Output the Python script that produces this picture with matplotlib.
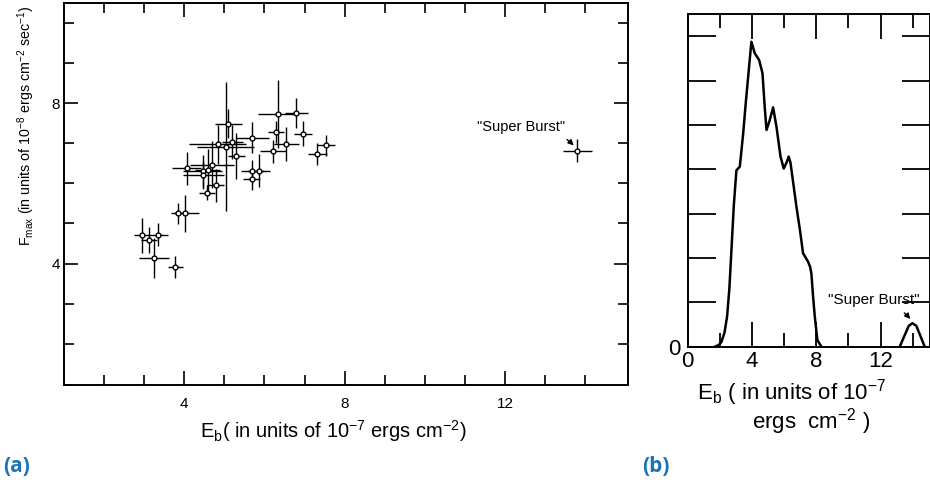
import numpy as np
import matplotlib
matplotlib.use('Agg')
import matplotlib.pyplot as plt

plt.rcParams['font.family'] = ['Liberation Sans', 'DejaVu Sans']
plt.rcParams['mathtext.default'] = 'regular'

# panel (a): burst energy vs peak flux
eb = [2.94, 3.12, 3.34, 3.25, 3.78, 3.85, 4.02, 4.06, 4.46, 4.48, 4.58, 4.69,
      4.56, 4.78, 4.83, 5.03, 5.10, 5.20, 5.30, 5.70, 5.70, 5.68, 5.87, 6.21,
      6.30, 6.34, 6.55, 6.80, 6.96, 7.32, 7.54, 13.80]
fmax = [4.70, 4.59, 4.72, 4.14, 3.91, 5.25, 5.25, 6.38, 6.31, 6.22, 6.34, 6.47,
        5.77, 5.95, 6.97, 6.92, 7.49, 7.04, 6.68, 7.14, 6.31, 6.10, 6.32, 6.80,
        7.28, 7.74, 6.99, 7.75, 7.24, 6.74, 6.95, 6.82]
eb_err = [0.19, 0.19, 0.25, 0.38, 0.19, 0.10, 0.36, 0.36, 0.48, 0.50, 0.30, 0.54,
          0.20, 0.21, 0.70, 0.70, 0.33, 0.27, 0.21, 0.42, 0.28, 0.22, 0.27, 0.33,
          0.20, 0.51, 0.31, 0.29, 0.22, 0.23, 0.23, 0.36]
fmax_err = [0.44, 0.32, 0.29, 0.50, 0.27, 0.26, 0.47, 0.41, 0.40, 0.35, 0.52, 0.58,
            0.19, 0.42, 0.49, 1.60, 0.37, 0.42, 0.57, 0.38, 0.28, 0.27, 0.42, 0.28,
            0.27, 0.85, 0.42, 0.37, 0.31, 0.27, 0.26, 0.29]

# panel (b): distribution of burst energies
dist_x = [1.70, 1.95, 2.11, 2.30, 2.46, 2.60, 2.73, 2.88, 3.04, 3.25, 3.46, 3.62,
          3.77, 3.97, 4.18, 4.45, 4.66, 4.80, 4.91, 5.11, 5.32, 5.53, 5.78, 5.98,
          6.15, 6.29, 6.40, 6.52, 6.77, 7.00, 7.18, 7.49, 7.62, 7.70, 7.80, 7.91,
          8.07, 8.32]
dist_y = [0.0, 0.04, 0.11, 0.32, 0.68, 1.30, 2.18, 3.20, 3.98, 4.06, 4.81, 5.50,
          6.09, 6.88, 6.62, 6.47, 6.17, 5.40, 4.89, 5.11, 5.40, 4.96, 4.29, 4.02,
          4.15, 4.29, 4.15, 3.83, 3.16, 2.60, 2.11, 1.92, 1.80, 1.65, 1.15, 0.68,
          0.15, 0.0]
sb_x = [13.19, 13.45, 13.75, 13.98, 14.22, 14.50, 14.74]
sb_y = [0.0, 0.22, 0.47, 0.53, 0.47, 0.22, 0.0]

fig = plt.figure(figsize=(9.3, 4.88), dpi=100)
W, H = 930.0, 488.0

# ---------- (a) ----------
ax = fig.add_axes([64 / W, 1 - 385 / H, (628 - 64) / W, (385 - 3) / H])
ax.errorbar(eb, fmax, xerr=eb_err, yerr=fmax_err, fmt='o', ms=3.5, mfc='white',
            mec='black', mew=1.0, ecolor='black', elinewidth=1.0, capsize=0)
ax.set_xlim(1, 15.07)
ax.set_ylim(0.97, 10.5)
ax.set_xticks([4, 8, 12])
ax.set_xticks(np.arange(2, 15), minor=True)
ax.set_yticks([4, 8])
ax.set_yticks(np.arange(2, 11), minor=True)
ax.tick_params(which='both', direction='in', top=True, right=True, width=1.2,
               color='black', labelsize=11)
ax.tick_params(axis='x', pad=9)
ax.tick_params(axis='y', pad=3)
ax.tick_params(which='major', length=10)
ax.tick_params(which='minor', length=7)
for s in ax.spines.values():
    s.set_linewidth(1.4)
ax.annotate('"Super Burst"', xy=(13.74, 6.92), xytext=(12.4, 7.4),
            fontsize=10.5, ha='center', va='center',
            arrowprops=dict(arrowstyle='-|>', color='black', lw=1.0,
                            connectionstyle='arc3,rad=-0.25', shrinkA=3,
                            shrinkB=1, mutation_scale=8))
fig.text(333 / W, 1 - 431 / H,
         r'E$_b$( in units of 10$^{-7}$ ergs cm$^{-2}$)', ha='center',
         va='center', fontsize=14.5)
fig.text(26 / W, 1 - 126 / H,
         r'F$_{max}$ (in units of 10$^{-8}$ ergs cm$^{-2}$ sec$^{-1}$)',
         rotation=90, ha='center', va='center', fontsize=10.3)

# ---------- (b) ----------
bx = fig.add_axes([687.5 / W, 1 - 346.7 / H, (930 - 687.5) / W, (346.7 - 14.3) / H])
bx.plot(dist_x, dist_y, color='black', lw=1.8)
bx.plot(sb_x, sb_y, color='black', lw=1.8)
bx.set_xlim(0, 15.07)
bx.set_ylim(0, 7.5)
bx.set_xticks([0, 4, 8, 12])
bx.set_xticks(np.arange(2, 15, 2), minor=True)
bx.set_yticks([0])
bx.set_yticks(np.arange(1, 8), minor=True)
bx.tick_params(which='both', direction='in', top=True, bottom=True, right=True,
               width=1.3, labelsize=16)
bx.tick_params(axis='x', which='major', length=18, pad=3)
bx.tick_params(axis='x', which='minor', length=10)
bx.tick_params(axis='y', which='both', length=20, pad=5)
for name, s in bx.spines.items():
    s.set_linewidth(1.4)
bx.annotate('"Super Burst"', xy=(13.9, 0.6), xytext=(11.6, 1.06),
            fontsize=11, ha='center', va='center',
            arrowprops=dict(arrowstyle='-|>', color='black', lw=1.0,
                            connectionstyle='arc3,rad=-0.2', shrinkA=4,
                            shrinkB=1, mutation_scale=8))
fig.text(792 / W, 1 - 393 / H, r'E$_b$ ( in units of 10$^{-7}$', ha='center',
         va='center', fontsize=16)
fig.text(811 / W, 1 - 422 / H, r'ergs  cm$^{-2}$ )', ha='center', va='center',
         fontsize=16)

# panel letters
fig.text(3 / W, 1 - 466 / H, '(a)', color='#1b75b5', fontsize=15,
         fontweight='bold', family=['Open Sans', 'DejaVu Sans'], va='center')
fig.text(642 / W, 1 - 466 / H, '(b)', color='#1b75b5', fontsize=15,
         fontweight='bold', family=['Open Sans', 'DejaVu Sans'], va='center')

plt.savefig('out.png', dpi=100)
